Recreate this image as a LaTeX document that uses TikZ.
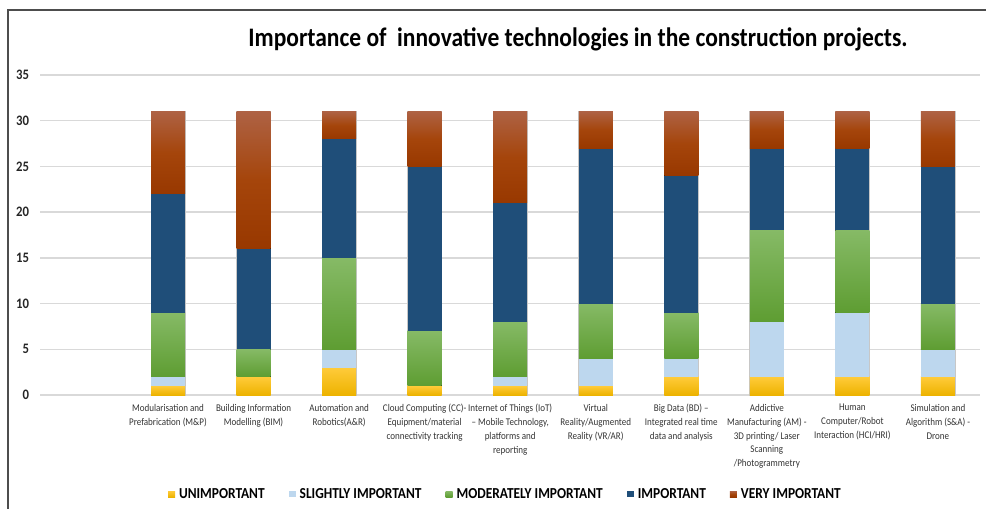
\documentclass[tikz,border=0pt]{standalone}
\usepackage{fontspec}
\setmainfont{Carlito}[FakeStretch=0.88]
\usetikzlibrary{positioning}

\definecolor{unimptop}{HTML}{FFCB3A}
\definecolor{unimpbot}{HTML}{EDB300}
\definecolor{slightcolor}{HTML}{BDD7EE}
\definecolor{moderatetop}{HTML}{86BA66}
\definecolor{moderatebot}{HTML}{5E9D32}
\definecolor{importantcolor}{HTML}{1F4E79}
\definecolor{verytop}{HTML}{AE6244}
\definecolor{verymid}{HTML}{A5450B}
\definecolor{verybot}{HTML}{983800}
\definecolor{framecolor}{HTML}{4D4D4D}
\definecolor{gridcolor}{HTML}{D9D9D9}

\newcommand{\halfbar}{17}
\newcommand{\stacksegment}[4]{\ifdim #3pt>#2pt \fill[#4] ({#1-\halfbar},#2) rectangle ({#1+\halfbar},#3); \fi}

\tikzstyle{every node}=[inner sep=0, outer sep=0]
\tikzstyle{chart title}=[font=\fontsize{26.8}{30}\selectfont\bfseries, anchor=base]
\tikzstyle{tick label}=[font=\fontsize{14.5}{17}\selectfont\bfseries, text=black!85, anchor=east]
\tikzstyle{category}=[font=\fontsize{10.3}{14}\selectfont, align=center, text=black!80]
\tikzstyle{legend key}=[minimum width=7bp, minimum height=6bp]
\tikzstyle{legend text}=[font=\fontsize{15.3}{17}\selectfont\bfseries]
\tikzstyle{gridline}=[draw=gridcolor, line width=1.5bp]
\tikzstyle{bar edge}=[draw=black!22, line width=0.8bp]
\tikzstyle{unimp}=[top color=unimptop, bottom color=unimpbot]
\tikzstyle{slight}=[fill=slightcolor]
\tikzstyle{moderate}=[top color=moderatetop, bottom color=moderatebot]
\tikzstyle{important}=[fill=importantcolor]
\tikzstyle{very}=[top color=verytop, bottom color=verybot, middle color=verymid]

\begin{document}
\begin{tikzpicture}[x=1bp, y=-1bp]
\useasboundingbox (0,0) rectangle (986,509);
\draw[framecolor, line width=1.6bp] (8,509) -- (8,10) -- (986,10);

\node[chart title] (title) at (578,47) {Importance of\ \ innovative technologies in the construction projects.};

% value axis: 0 at y=395, 35 at y=75
\begin{scope}[shift={(0,395)}, y=9.1429bp]
\foreach \v in {0,5,...,35}
{
\draw[gridline] (40,\v) -- (980,\v);
\node[tick label] (tick\v) at (29,\v) {\v};
}

\foreach \i/\a/\b/\c/\d/\e in {1/1/1/7/13/9, 2/2/0/3/11/15, 3/3/2/10/13/3, 4/1/0/6/18/6, 5/1/1/6/13/10,
  6/1/3/6/17/4, 7/2/2/5/15/7, 8/2/6/10/9/4, 9/2/7/9/9/4, 10/2/3/5/15/6}
{
\pgfmathsetmacro{\xc}{168+85.55*(\i-1)}
\pgfmathsetmacro{\topU}{\a}
\pgfmathsetmacro{\topS}{\topU+\b}
\pgfmathsetmacro{\topM}{\topS+\c}
\pgfmathsetmacro{\topI}{\topM+\d}
\pgfmathsetmacro{\topV}{\topI+\e}
\draw[bar edge] ({\xc-\halfbar},0) rectangle ({\xc+\halfbar},\topV);
\stacksegment{\xc}{0}{\topU}{unimp}
\stacksegment{\xc}{\topU}{\topS}{slight}
\stacksegment{\xc}{\topS}{\topM}{moderate}
\stacksegment{\xc}{\topM}{\topI}{important}
\stacksegment{\xc}{\topI}{\topV}{very}
\coordinate (bar\i) at (\xc,0);
}
\end{scope}

\node[category, below=9bp of bar1] (cat1) {Modularisation and\\Prefabrication (M\&P)};
\node[category, below=9bp of bar2] (cat2) {Building Information\\Modelling (BIM)};
\node[category, below=9bp of bar3] (cat3) {Automation and\\Robotics(A\&R)};
\node[category, below=9bp of bar4] (cat4) {Cloud Computing (CC)-\\Equipment/material\\connectivity tracking};
\node[category, below=9bp of bar5] (cat5) {Internet of Things (IoT)\\– Mobile Technology,\\platforms and\\reporting};
\node[category, below=9bp of bar6] (cat6) {Virtual\\Reality/Augmented\\Reality (VR/AR)};
\node[category, below=9bp of bar7] (cat7) {Big Data (BD) –\\Integrated real time\\data and analysis};
\node[category, below=9bp of bar8] (cat8) {Addictive\\Manufacturing (AM) -\\3D printing/ Laser\\Scanning\\/Photogrammetry};
\node[category, below=9bp of bar9] (cat9) {Human\\Computer/Robot\\Interaction (HCI/HRI)};
\node[category, below=9bp of bar10] (cat10) {Simulation and\\Algorithm (S\&A) -\\Drone};

% legend
\node[legend key, unimp, anchor=west] (key1) at (168,494) {};
\node[legend text, right=4bp of key1] (leg1) {UNIMPORTANT};
\node[legend key, slight, right=24bp of leg1] (key2) {};
\node[legend text, right=4bp of key2] (leg2) {SLIGHTLY IMPORTANT};
\node[legend key, moderate, right=24bp of leg2] (key3) {};
\node[legend text, right=4bp of key3] (leg3) {MODERATELY IMPORTANT};
\node[legend key, important, right=24bp of leg3] (key4) {};
\node[legend text, right=4bp of key4] (leg4) {IMPORTANT};
\node[legend key, very, right=24bp of leg4] (key5) {};
\node[legend text, right=4bp of key5] (leg5) {VERY IMPORTANT};
\end{tikzpicture}
\end{document}
